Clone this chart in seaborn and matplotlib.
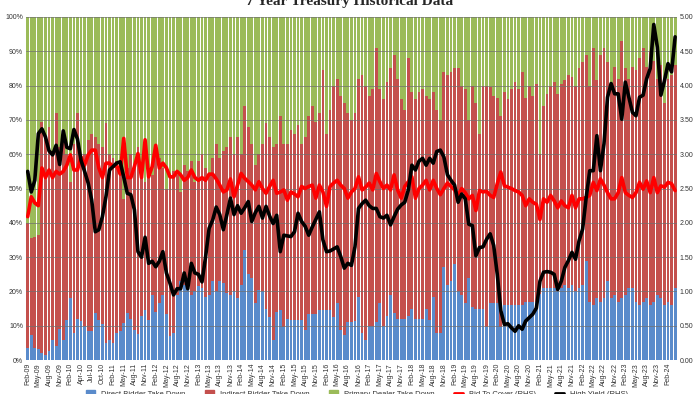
import numpy as np
import pandas as pd
import matplotlib
matplotlib.use("Agg")
import matplotlib.pyplot as plt
import seaborn as sns
from matplotlib.lines import Line2D
from matplotlib.patches import Patch

# ---------------- data (monthly auctions Feb-09 .. Apr-24) ----------------
months = pd.date_range("2009-02-01", periods=183, freq="MS").strftime("%b-%y").tolist()

tick_labels = [
    "Feb-09", "May-09", "Aug-09", "Nov-09",
    "Feb-10", "Apr-10", "Jul-10", "Oct-10",
    "Feb-11", "May-11", "Aug-11", "Nov-11",
    "Feb-12", "May-12", "Aug-12", "Nov-12",
    "Feb-13", "May-13", "Aug-13", "Nov-13",
    "Feb-14", "May-14", "Aug-14", "Nov-14",
    "Feb-15", "May-15", "Aug-15", "Nov-15",
    "Feb-16", "May-16", "Aug-16", "Nov-16",
    "Feb-17", "May-17", "Aug-17", "Nov-17",
    "Feb-18", "May-18", "Aug-18", "Nov-18",
    "Feb-19", "May-19", "Aug-19", "Nov-19",
    "Feb-20", "May-20", "Aug-20", "Nov-20",
    "Feb-21", "May-21", "Aug-21", "Nov-21",
    "Feb-22", "May-22", "Aug-22", "Nov-22",
    "Feb-23", "May-23", "Aug-23", "Nov-23",
    "Feb-24",
]

# Direct bidder take down (%)
direct = [
    3.5, 7.4, 3.5, 3.3, 2.0, 1.6, 2.6, 6.0, 4.0, 9.0, 6.0,
    11.7, 18.0, 8.0, 12.0, 11.5, 10.0, 8.5, 8.5, 13.6, 11.7, 10.6, 5.0,
    6.0, 5.0, 8.0, 8.5, 10.8, 13.6, 12.0, 8.7, 7.7, 13.0, 14.6, 11.7,
    19.0, 14.0, 16.5, 19.0, 13.5, 7.0, 8.0, 19.0, 23.0, 22.0, 23.0, 19.0,
    20.0, 21.5, 21.0, 18.5, 19.0, 23.0, 20.0, 23.0, 22.5, 19.5, 19.0, 20.0,
    18.0, 22.0, 32.0, 25.0, 24.0, 16.5, 20.4, 20.0, 15.0, 12.6, 5.8, 14.0,
    14.6, 9.7, 12.0, 11.7, 11.7, 11.7, 11.7, 8.7, 13.5, 13.5, 13.5, 14.5,
    14.5, 14.5, 14.5, 12.5, 16.5, 8.7, 7.3, 11.0, 11.0, 11.5, 18.5, 7.8,
    5.8, 10.0, 10.0, 11.0, 16.5, 10.0, 13.0, 19.0, 13.6, 12.0, 12.0, 12.0,
    13.0, 15.0, 12.0, 12.0, 12.0, 15.0, 11.7, 18.5, 8.0, 8.0, 27.0, 22.0,
    23.0, 28.0, 20.0, 19.0, 16.5, 24.0, 15.5, 15.0, 15.0, 15.0, 9.7, 16.5,
    16.5, 16.5, 9.7, 16.0, 16.0, 16.0, 16.0, 16.0, 16.0, 17.0, 17.0, 17.0,
    17.0, 19.4, 21.0, 21.0, 21.0, 21.0, 20.0, 21.0, 22.0, 21.0, 22.0, 20.0,
    21.0, 22.0, 29.0, 17.0, 16.0, 18.0, 17.0, 18.0, 23.0, 18.0, 19.0, 17.0,
    18.0, 19.0, 21.0, 21.0, 17.0, 16.0, 17.0, 18.0, 16.0, 17.0, 19.0, 18.0,
    16.0, 17.0, 16.0, 21.0,
]

# Direct + indirect bidder take down, cumulative (%)  -> rest is dealers
direct_plus_indirect = [
    40, 35.5, 36, 36.5, 69.5, 64, 68, 61, 72, 62, 66,
    60, 52, 63, 72, 58, 60, 64, 66, 65, 63, 62, 69,
    60, 59, 58, 55, 47, 56, 60, 57, 62, 55, 52, 56,
    54, 60, 59, 56, 50, 53, 55, 54, 49, 57, 55, 58,
    52, 58, 60, 56, 54, 59, 63, 59, 61, 62, 65, 60,
    65, 60, 74, 68, 63, 57, 60, 63, 69, 65, 62, 63,
    71, 63, 63, 67, 66, 68.5, 63, 65, 71, 74, 69.5, 72,
    84.5, 66, 73, 80, 82, 77, 75, 72, 70, 72, 82, 83,
    80, 77, 79, 91, 79, 76, 81, 85, 89, 82, 76, 73,
    88, 78, 76, 78, 79, 77, 76, 78, 73, 70, 84, 83,
    84, 85, 85, 80, 79, 70, 80, 75, 66, 80, 80, 79.5,
    77, 76.5, 71, 78, 76, 79, 81, 79, 84, 76.5, 80, 77,
    80.5, 60, 74, 77.5, 80, 81, 77.5, 80.5, 81.5, 83, 82.5, 80,
    85, 87, 89, 80, 91, 81.5, 89, 91, 87, 79, 85.5, 82,
    93, 85, 82, 85.5, 84.5, 88, 91, 85.5, 90, 87.3, 82, 86,
    75, 82, 83, 86,
]

# Bid to cover (RHS)
bid_to_cover = [
    2.09, 2.38, 2.29, 2.25, 2.80, 2.66, 2.77, 2.66, 2.75, 2.71, 2.75,
    2.84, 2.99, 2.77, 2.77, 2.96, 2.84, 2.99, 3.06, 3.06, 2.80, 2.66, 2.87,
    2.87, 2.82, 2.84, 2.71, 3.23, 2.66, 2.66, 2.82, 3.01, 2.66, 3.21, 2.67,
    2.82, 3.13, 2.80, 2.87, 2.80, 2.67, 2.67, 2.75, 2.70, 2.62, 2.66, 2.77,
    2.66, 2.62, 2.66, 2.62, 2.71, 2.71, 2.64, 2.55, 2.45, 2.48, 2.64, 2.38,
    2.55, 2.72, 2.65, 2.60, 2.55, 2.48, 2.60, 2.50, 2.43, 2.53, 2.62, 2.43,
    2.45, 2.48, 2.33, 2.45, 2.42, 2.38, 2.53, 2.50, 2.53, 2.55, 2.36, 2.55,
    2.45, 2.24, 2.53, 2.58, 2.62, 2.55, 2.50, 2.36, 2.45, 2.50, 2.67, 2.48,
    2.52, 2.58, 2.48, 2.72, 2.60, 2.50, 2.55, 2.48, 2.70, 2.48, 2.36, 2.53,
    2.60, 2.67, 2.36, 2.50, 2.55, 2.62, 2.48, 2.62, 2.50, 2.41, 2.50, 2.58,
    2.53, 2.48, 2.40, 2.50, 2.44, 2.35, 2.40, 2.18, 2.47, 2.45, 2.46, 2.40,
    2.37, 2.57, 2.74, 2.54, 2.52, 2.50, 2.47, 2.45, 2.40, 2.25, 2.35, 2.30,
    2.27, 2.05, 2.35, 2.30, 2.40, 2.32, 2.22, 2.32, 2.25, 2.22, 2.40, 2.22,
    2.35, 2.35, 2.37, 2.40, 2.59, 2.47, 2.64, 2.55, 2.44, 2.35, 2.35, 2.44,
    2.66, 2.44, 2.40, 2.37, 2.44, 2.59, 2.49, 2.61, 2.44, 2.66, 2.44, 2.54,
    2.52, 2.59, 2.57, 2.47,
]

# High yield (RHS)
high_yield = [
    2.75, 2.45, 2.62, 3.30, 3.37, 3.25, 3.05, 2.99, 3.13, 2.85, 3.34,
    3.10, 3.08, 3.36, 3.22, 2.91, 2.75, 2.58, 2.33, 1.87, 1.90, 2.09, 2.38,
    2.77, 2.82, 2.87, 2.89, 2.67, 2.43, 2.41, 2.19, 1.58, 1.50, 1.79, 1.41,
    1.44, 1.36, 1.44, 1.58, 1.27, 1.12, 0.95, 1.04, 1.04, 1.27, 1.04, 1.41,
    1.27, 1.25, 1.14, 1.50, 1.92, 2.04, 2.23, 2.12, 1.90, 2.12, 2.36, 2.12,
    2.25, 2.14, 2.22, 2.31, 2.02, 2.15, 2.24, 2.07, 2.24, 2.10, 1.99, 2.11,
    1.58, 1.82, 1.81, 1.80, 1.87, 2.14, 2.02, 1.95, 1.82, 1.94, 2.05, 2.16,
    1.75, 1.58, 1.59, 1.62, 1.65, 1.51, 1.34, 1.41, 1.38, 1.65, 2.21, 2.28,
    2.33, 2.25, 2.21, 2.21, 2.09, 2.07, 2.11, 1.97, 2.09, 2.20, 2.26, 2.30,
    2.48, 2.84, 2.77, 2.90, 2.94, 2.84, 2.94, 2.87, 3.04, 3.06, 2.96, 2.70,
    2.62, 2.55, 2.30, 2.42, 2.35, 1.98, 1.96, 1.52, 1.64, 1.65, 1.76, 1.84,
    1.67, 1.25, 0.72, 0.52, 0.53, 0.47, 0.42, 0.50, 0.45, 0.57, 0.62, 0.67,
    0.76, 1.15, 1.28, 1.29, 1.28, 1.25, 1.03, 1.15, 1.35, 1.45, 1.57, 1.47,
    1.74, 1.91, 2.37, 2.76, 2.76, 3.27, 2.76, 3.15, 3.83, 4.03, 3.88, 3.88,
    3.51, 4.05, 3.83, 3.61, 3.56, 3.83, 3.86, 4.10, 4.25, 4.89, 4.56, 3.86,
    4.07, 4.32, 4.20, 4.71,
]

df = pd.DataFrame({
    "month": months,
    "direct": direct,
    "direct_indirect": direct_plus_indirect,
    "btc": bid_to_cover,
    "yield": high_yield,
})
df["total"] = 100.0
df["pos"] = np.arange(len(df))

BLUE, RED, GREEN = "#5A8BCB", "#C4504D", "#9BBB59"

sns.set_theme(style="white")
plt.rcParams["font.family"] = ["Liberation Sans", "DejaVu Sans"]

fig = plt.figure(figsize=(7.0, 3.94), dpi=100)
ax = fig.add_axes([0.037, 0.086, 0.930, 0.871])

bw = 0.8
for col, colr in (("total", GREEN), ("direct_indirect", RED), ("direct", BLUE)):
    sns.barplot(data=df, x="month", y=col, color=colr, saturation=1,
                width=bw, errorbar=None, ax=ax, zorder=1, linewidth=0)

ax.set_xlim(-0.5, len(df) - 0.5)
ax.set_ylim(0, 100)
ax.set_yticks(np.arange(0, 101, 10))
ax.set_yticklabels([f"{v}%" for v in range(0, 101, 10)])
ax.set_xticks(np.arange(0, len(df), 3))
ax.set_xticklabels(tick_labels, rotation=90)
ax.set_xlabel("")
ax.set_ylabel("")
ax.set_axisbelow(False)
ax.yaxis.grid(True, color="#6f6f6f", lw=0.6, alpha=0.8)
ax.xaxis.grid(False)
for s in ax.spines.values():
    s.set_visible(False)
ax.tick_params(axis="x", labelsize=5, colors="#333333", length=0, pad=2)
ax.tick_params(axis="y", labelsize=5, colors="#333333", length=0, pad=2)

ax2 = ax.twinx()
sns.lineplot(x=df["pos"], y=df["btc"], color="#FF0000", lw=2.6, ax=ax2)
sns.lineplot(x=df["pos"], y=df["yield"], color="#000000", lw=2.6, ax=ax2)
ax2.set_ylim(0, 5)
ax2.set_xlim(-0.5, len(df) - 0.5)
ax2.set_yticks(np.arange(0, 5.01, 0.5))
ax2.set_yticklabels([f"{v:.2f}" for v in np.arange(0, 5.01, 0.5)])
ax2.set_ylabel("")
ax2.set_xlabel("")
ax2.grid(False)
for s in ax2.spines.values():
    s.set_visible(False)
ax2.tick_params(axis="y", labelsize=5, colors="#333333", length=0, pad=2)

fig.text(0.5, 0.988, "7 Year Treasury Historical Data", ha="center", va="baseline",
         fontsize=11, fontweight="bold", family=["Liberation Serif", "DejaVu Serif"])

handles = [
    Patch(color=BLUE, label="Direct Bidder Take Down"),
    Patch(color=RED, label="Indirect Bidder Take Down"),
    Patch(color=GREEN, label="Primary Dealer Take Down"),
    Line2D([0], [0], color="#FF0000", lw=2, label="Bid To Cover (RHS)"),
    Line2D([0], [0], color="#000000", lw=2, label="High Yield (RHS)"),
]
fig.legend(handles=handles, loc="center", bbox_to_anchor=(0.51, 0.0), ncol=5,
           frameon=False, fontsize=5.5, handlelength=1.2, columnspacing=2.5,
           labelcolor="#333333")

fig.savefig("out.png", dpi=100)
